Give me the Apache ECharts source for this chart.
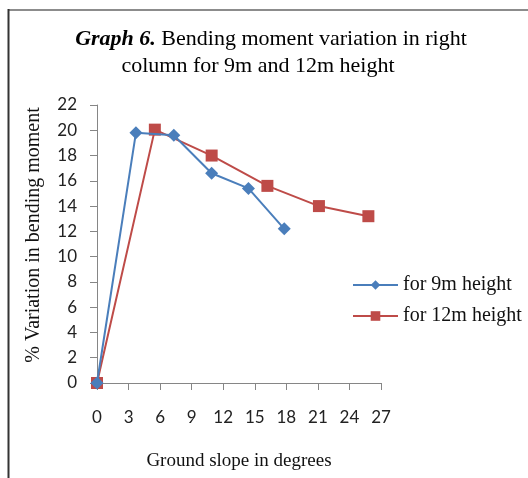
<!DOCTYPE html>
<html>
<head>
<meta charset="utf-8">
<script src="https://cdn.jsdelivr.net/npm/echarts@6/dist/echarts.min.js"></script>
<style>
html,body{margin:0;padding:0;background:#fff;}
#chart{width:528px;height:478px;}
</style>
</head>
<body>
<div id="chart"></div>
<script>
// Data
const seriesNames = ['for 9m height', 'for 12m height'];
const slope9m  = [0, 3.7, 7.3, 10.9, 14.4, 17.8];
const moment9m = [0, 19.8, 19.6, 16.6, 15.4, 12.2];
const slope12m  = [0, 5.5, 10.9, 16.2, 21.1, 25.8];
const moment12m = [0, 20.05, 18.0, 15.6, 14.0, 13.2];
const xTicks = [0, 3, 6, 9, 12, 15, 18, 21, 24, 27];
const yTicks = [0, 2, 4, 6, 8, 10, 12, 14, 16, 18, 20, 22];

const pairs = (xs, ys) => xs.map((x, i) => [x, ys[i]]);

const chart = echarts.init(document.getElementById('chart'), null, {renderer: 'canvas'});
const serif = '"Liberation Serif", "DejaVu Serif", serif';
const sans = 'Lato, "Open Sans", sans-serif';
const axisGray = '#868686';

chart.setOption({
  animation: false,
  backgroundColor: '#ffffff',
  grid: {left: 97, right: 147, top: 105, bottom: 95, containLabel: false},
  xAxis: {
    type: 'value',
    min: xTicks[0], max: xTicks[xTicks.length - 1], interval: 3,
    axisLine: {show: true, lineStyle: {color: axisGray, width: 1}},
    axisTick: {show: true, length: 7, lineStyle: {color: axisGray}},
    splitLine: {show: false},
    axisLabel: {color: '#222', fontFamily: sans, fontSize: 17, margin: 26},
    name: 'Ground slope in degrees',
    nameLocation: 'middle',
    nameGap: 69,
    nameTextStyle: {color: '#111', fontFamily: serif, fontSize: 19}
  },
  yAxis: {
    type: 'value',
    min: yTicks[0], max: yTicks[yTicks.length - 1], interval: 2,
    axisLine: {show: true, lineStyle: {color: axisGray, width: 1}},
    axisTick: {show: true, length: 7, lineStyle: {color: axisGray}},
    splitLine: {show: false},
    axisLabel: {color: '#222', fontFamily: sans, fontSize: 17, margin: 20},
    name: '% Variation in bending moment',
    nameLocation: 'middle',
    nameGap: 53,
    nameRotate: 90,
    nameTextStyle: {color: '#111', fontFamily: serif, fontSize: 20, padding: [0, 0, 0, 18]}
  },
  legend: {
    orient: 'vertical',
    left: 347,
    top: 270,
    itemWidth: 45,
    itemHeight: 12,
    itemGap: 11,
    textStyle: {color: '#111', fontFamily: serif, fontSize: 20},
    data: seriesNames
  },
  series: [
    {
      name: seriesNames[0],
      type: 'line',
      data: pairs(slope9m, moment9m),
      symbol: 'diamond',
      symbolSize: 13,
      lineStyle: {color: '#4a7ebb', width: 2},
      itemStyle: {color: '#4a7ebb'},
      z: 3
    },
    {
      name: seriesNames[1],
      type: 'line',
      data: pairs(slope12m, moment12m),
      symbol: 'rect',
      symbolSize: 12,
      lineStyle: {color: '#be4b48', width: 2},
      itemStyle: {color: '#be4b48'},
      z: 2
    }
  ],
  graphic: [
    {type: 'line', shape: {x1: 8, y1: 10, x2: 528, y2: 10}, style: {stroke: '#8c8c8c', lineWidth: 2}},
    {type: 'line', shape: {x1: 8.5, y1: 9, x2: 8.5, y2: 478}, style: {stroke: '#333', lineWidth: 2}},
    {
      type: 'text', x: 271, y: 28,
      style: {
        rich: {
          b: {fontFamily: serif, fontSize: 22, fontStyle: 'italic', fontWeight: 'bold', fill: '#000'},
          n: {fontFamily: serif, fontSize: 22, fill: '#000'}
        },
        text: '{b|Graph 6.}{n| Bending moment variation in right}',
        textAlign: 'center'
      }
    },
    {
      type: 'text', x: 258, y: 55,
      style: {
        text: 'column for 9m and 12m height',
        fontFamily: serif, fontSize: 22, fill: '#000', textAlign: 'center'
      }
    }
  ]
});
</script>
</body>
</html>
